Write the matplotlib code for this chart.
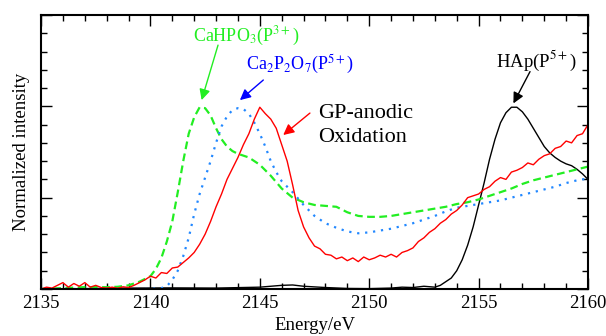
import numpy as np
import matplotlib
matplotlib.use("Agg")
import matplotlib.pyplot as plt
from matplotlib.ticker import MultipleLocator

plt.rcParams['font.family'] = ['Liberation Serif', 'DejaVu Serif']
plt.rcParams['mathtext.fontset'] = 'stix'

# ---- data ----
red_x0, red_step = 2135.0, 0.25
red_y = [0.00, 0.01, 0.005, 0.02, 0.035, 0.01, 0.03, 0.015, 0.035, 0.01,
         0.02, 0.008, 0.005, 0.01, 0.004, 0.012, 0.008, 0.02, 0.035, 0.05,
         0.07, 0.06, 0.09, 0.085, 0.115, 0.12, 0.145, 0.17, 0.2, 0.245,
         0.3, 0.37, 0.45, 0.52, 0.6, 0.66, 0.72, 0.79, 0.85, 0.93,
         0.995, 0.96, 0.93, 0.88, 0.79, 0.70, 0.57, 0.43, 0.34, 0.28,
         0.235, 0.22, 0.19, 0.185, 0.165, 0.175, 0.155, 0.17, 0.15, 0.175,
         0.16, 0.17, 0.185, 0.175, 0.19, 0.175, 0.2, 0.21, 0.225, 0.26,
         0.28, 0.31, 0.33, 0.36, 0.38, 0.41, 0.43, 0.46, 0.5, 0.51,
         0.52, 0.545, 0.56, 0.59, 0.61, 0.6, 0.64, 0.65, 0.665, 0.69,
         0.68, 0.71, 0.73, 0.74, 0.77, 0.78, 0.81, 0.8, 0.84, 0.85, 0.9]
red_x = red_x0 + red_step * np.arange(len(red_y))

green_x = [2135, 2136, 2137, 2138, 2138.5, 2139, 2139.5, 2140, 2140.25, 2140.5,
           2140.75, 2141, 2141.25, 2141.5, 2141.75, 2142, 2142.25, 2142.5, 2142.75, 2143,
           2143.25, 2143.5, 2143.75, 2144, 2144.5, 2145, 2145.5, 2146, 2146.5, 2147,
           2147.5, 2148, 2148.5, 2149, 2149.5, 2150, 2150.5, 2151, 2151.5, 2152,
           2152.5, 2153, 2153.5, 2154, 2154.5, 2155, 2155.5, 2156, 2156.5, 2157,
           2157.5, 2158, 2158.5, 2159, 2159.5, 2160]
green_y = [0.0, 0.005, 0.01, 0.01, 0.012, 0.02, 0.04, 0.07, 0.11, 0.17,
           0.26, 0.37, 0.53, 0.70, 0.85, 0.94, 0.995, 0.99, 0.95, 0.88,
           0.82, 0.78, 0.755, 0.74, 0.72, 0.68, 0.62, 0.55, 0.50, 0.475,
           0.46, 0.455, 0.45, 0.42, 0.40, 0.395, 0.395, 0.40, 0.41, 0.42,
           0.43, 0.44, 0.45, 0.465, 0.475, 0.49, 0.51, 0.53, 0.55, 0.575,
           0.595, 0.61, 0.625, 0.64, 0.655, 0.67]

blue_x = [2135, 2137, 2139, 2140, 2140.5, 2140.75, 2141, 2141.25, 2141.5, 2141.75,
          2142, 2142.25, 2142.5, 2142.75, 2143, 2143.25, 2143.5, 2143.75, 2144, 2144.25,
          2144.5, 2144.75, 2145, 2145.25, 2145.5, 2145.75, 2146, 2146.5, 2147, 2147.5,
          2148, 2148.5, 2149, 2149.5, 2150, 2150.5, 2151, 2151.5, 2152, 2152.5,
          2153, 2153.5, 2154, 2154.5, 2155, 2155.5, 2156, 2156.5, 2157, 2157.5,
          2158, 2158.5, 2159, 2159.5, 2160]
blue_y = [0.0, 0.0, 0.0, 0.0, 0.005, 0.015, 0.05, 0.1, 0.18, 0.28,
          0.41, 0.52, 0.61, 0.7, 0.8, 0.89, 0.945, 0.98, 0.99, 0.985,
          0.96, 0.91, 0.85, 0.78, 0.70, 0.64, 0.59, 0.53, 0.46, 0.40,
          0.36, 0.335, 0.315, 0.305, 0.31, 0.32, 0.33, 0.345, 0.36, 0.38,
          0.40, 0.425, 0.445, 0.455, 0.465, 0.475, 0.485, 0.5, 0.515, 0.53,
          0.545, 0.56, 0.58, 0.595, 0.605]

black_x = [2135, 2137, 2139, 2141, 2143, 2145, 2146, 2146.5, 2147, 2148,
           2149, 2150, 2151, 2151.5, 2152, 2152.5, 2153, 2153.25, 2153.5, 2153.75,
           2154, 2154.25, 2154.5, 2154.75, 2155, 2155.25, 2155.5, 2155.75, 2156, 2156.25,
           2156.5, 2156.75, 2157, 2157.25, 2157.5, 2157.75, 2158, 2158.25, 2158.5, 2158.75,
           2159, 2159.25, 2159.5, 2159.75, 2160]
black_y = [0.0, 0.002, 0.005, 0.006, 0.005, 0.01, 0.02, 0.022, 0.015, 0.008,
           0.003, 0.002, 0.005, 0.01, 0.008, 0.015, 0.01, 0.02, 0.04, 0.06,
           0.1, 0.16, 0.24, 0.34, 0.46, 0.58, 0.71, 0.82, 0.91, 0.965,
           0.995, 0.995, 0.97, 0.93, 0.88, 0.83, 0.78, 0.745, 0.72, 0.70,
           0.685, 0.675, 0.655, 0.63, 0.6]

xticks = [2135, 2140, 2145, 2150, 2155, 2160]

# ---- figure ----
fig = plt.figure(figsize=(6.06, 3.36), dpi=100)
ax = fig.add_axes([0.0677, 0.1399, 0.9026, 0.8155])

ax.plot(black_x, black_y, color='black', lw=1.0)
ax.plot(green_x, green_y, color='#22ee22', lw=1.6, ls=(0, (3.5, 2.0)))
ax.plot(blue_x, blue_y, color='#2288ff', lw=1.6, ls=(0, (1.0, 2.6)))
ax.plot(red_x, red_y, color='red', lw=1.0)

ax.set_xlim(2135, 2160)
ax.set_ylim(0, 1.5)
ax.set_xticks(xticks)
ax.xaxis.set_minor_locator(MultipleLocator(1))
ax.yaxis.set_major_locator(MultipleLocator(0.5))
ax.yaxis.set_minor_locator(MultipleLocator(0.1))
ax.tick_params(which='both', direction='in', top=True, right=True, width=1.0)
ax.tick_params(which='major', length=8, labelsize=13.5, pad=4)
ax.tick_params(which='minor', length=4.5)
ax.tick_params(axis='y', which='both', labelleft=False)
for s in ax.spines.values():
    s.set_linewidth(1.5)

ax.set_xlabel('Energy/eV', fontsize=13.5, labelpad=4)
ax.set_ylabel('Normalized intensity', fontsize=13.5, labelpad=8)

# annotations
ax.text(2141.93, 1.354, r'CaHPO$_3$(P$^{3+}$)', color='#22ee22', fontsize=13,
        ha='left', va='baseline')
ax.annotate('', xy=(2142.34, 1.034), xytext=(2143.09, 1.335),
            arrowprops=dict(arrowstyle='-|>', color='#22ee22', lw=1.0,
                            mutation_scale=16, shrinkA=0, shrinkB=0))
ax.text(2144.37, 1.199, r'Ca$_2$P$_2$O$_7$(P$^{5+}$)', color='blue', fontsize=13,
        ha='left', va='baseline')
ax.annotate('', xy=(2144.09, 1.034), xytext=(2145.16, 1.144),
            arrowprops=dict(arrowstyle='-|>', color='blue', lw=1.0,
                            mutation_scale=16, shrinkA=0, shrinkB=0))
ax.text(2147.67, 0.934, 'GP-anodic', color='black', fontsize=16,
        ha='left', va='baseline')
ax.text(2147.67, 0.806, 'Oxidation', color='black', fontsize=16,
        ha='left', va='baseline')
ax.annotate('', xy=(2146.07, 0.843), xytext=(2147.29, 0.963),
            arrowprops=dict(arrowstyle='-|>', color='red', lw=1.0,
                            mutation_scale=16, shrinkA=0, shrinkB=0))
ax.text(2157.67, 1.217, r'HAp(P$^{5+}$)', color='black', fontsize=13.5,
        ha='center', va='baseline')
ax.annotate('', xy=(2156.59, 1.016), xytext=(2157.35, 1.19),
            arrowprops=dict(arrowstyle='-|>', color='black', lw=1.0,
                            mutation_scale=16, shrinkA=0, shrinkB=0))

fig.savefig('out.png', dpi=100)
